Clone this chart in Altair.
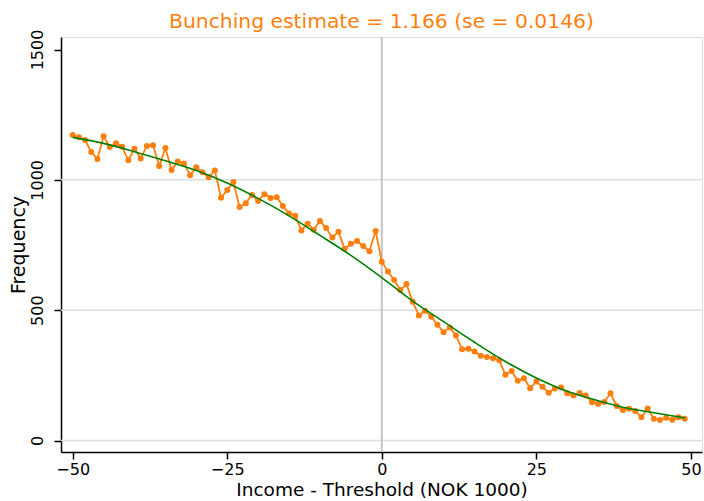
import altair as alt
import pandas as pd

# Observed frequency (orange)
x_vals = list(range(-50, 50))
freq = [1172, 1163, 1153, 1107, 1080, 1167, 1126, 1140, 1127, 1075,
        1119, 1082, 1130, 1133, 1053, 1122, 1038, 1070, 1063, 1018,
        1048, 1029, 1010, 1036, 931,
        961, 992, 896, 910, 942, 919, 945, 930, 933, 900,
        871, 862, 806, 832, 809, 842, 815, 779, 801, 736,
        755, 765, 746, 726, 804,
        686, 648, 616, 577, 600, 532, 480, 498, 475, 444,
        415, 434, 403, 350, 352, 342, 325, 320, 316, 308,
        252, 267, 229, 239, 201,
        226, 206, 183, 200, 203, 181, 173, 182, 173, 147,
        141, 148, 181, 132, 117, 122, 113, 89, 123, 84,
        79, 87, 80, 89, 84]

# Counterfactual fit (green), read at knots
fit_x = [-50, -45, -40, -35, -30, -25, -20, -15, -10, -5, 0,
         5, 10, 15, 20, 25, 30, 35, 40, 45, 49]
fit_y = [1163, 1140, 1108, 1073, 1036, 988, 929, 862, 787, 710, 625,
         535, 456, 377, 303, 240, 189, 153, 123, 103, 87]

grid_y = [0, 500, 1000]
x_ticks = [-50, -25, 0, 25, 50]
y_ticks = [0, 500, 1000, 1500]

title_text = "Bunching estimate = 1.166 (se = 0.0146)"

FONT = "DejaVu Sans"
ORANGE = "#ff7f0e"
GREEN = "#008000"

obs = pd.DataFrame({"x": x_vals, "y": freq})
fit = pd.DataFrame({"x": fit_x, "y": fit_y})
grid = pd.DataFrame({"y": grid_y})
vline = pd.DataFrame({"x": [0]})

xscale = alt.Scale(domain=[-51.89, 51.8], nice=False, zero=False)
yscale = alt.Scale(domain=[-44, 1548], nice=False, zero=False)

xaxis = alt.Axis(values=x_ticks, title="Income - Threshold (NOK 1000)", grid=False, format="d",
                 domainColor="black", domainWidth=1.5, tickColor="black", tickWidth=1.5,
                 tickSize=7, labelFontSize=16, labelFont=FONT, labelColor="black",
                 labelPadding=2, titleFont=FONT, titleFontSize=18.5, titleFontWeight="normal",
                 titleColor="black", titlePadding=3, labelFlush=False)
yaxis = alt.Axis(values=y_ticks, title="Frequency", grid=False, format="d",
                 domainColor="black", domainWidth=1.5, tickColor="black", tickWidth=1.5,
                 tickSize=7, labelFontSize=16, labelFont=FONT, labelColor="black",
                 labelAngle=270, labelAlign="center", labelBaseline="bottom",
                 labelPadding=9, titleFont=FONT, titleFontSize=19, titleFontWeight="normal",
                 titleColor="black", titlePadding=1, labelFlush=False)

grid_layer = alt.Chart(grid).mark_rule(color="#dedede", strokeWidth=1.5).encode(
    y=alt.Y("y:Q", scale=yscale, axis=yaxis)
)
vline_layer = alt.Chart(vline).mark_rule(color="#c4c4c4", strokeWidth=2).encode(
    x=alt.X("x:Q", scale=xscale, axis=xaxis)
)
obs_layer = alt.Chart(obs).mark_line(
    color=ORANGE, strokeWidth=1.8,
    point=alt.OverlayMarkDef(color=ORANGE, size=36, filled=True, opacity=1)
).encode(
    x=alt.X("x:Q", scale=xscale, axis=xaxis),
    y=alt.Y("y:Q", scale=yscale, axis=yaxis)
)
fit_layer = alt.Chart(fit).mark_line(color=GREEN, strokeWidth=1.6, interpolate="monotone").encode(
    x=alt.X("x:Q", scale=xscale, axis=xaxis),
    y=alt.Y("y:Q", scale=yscale, axis=yaxis)
)

chart = alt.layer(grid_layer, vline_layer, obs_layer, fit_layer).properties(
    width=641, height=415,
    autosize=alt.AutoSizeParams(type="none"),
    padding={"left": 61, "top": 37, "right": 2, "bottom": 49},
    title=alt.TitleParams(text=title_text, color=ORANGE, font=FONT, fontSize=20.3,
                          fontWeight="normal", anchor="middle", offset=2, dy=5)
).configure_view(stroke=None).configure(background="white")

chart.save("out.html", embed_options={"renderer": "svg", "actions": False})
